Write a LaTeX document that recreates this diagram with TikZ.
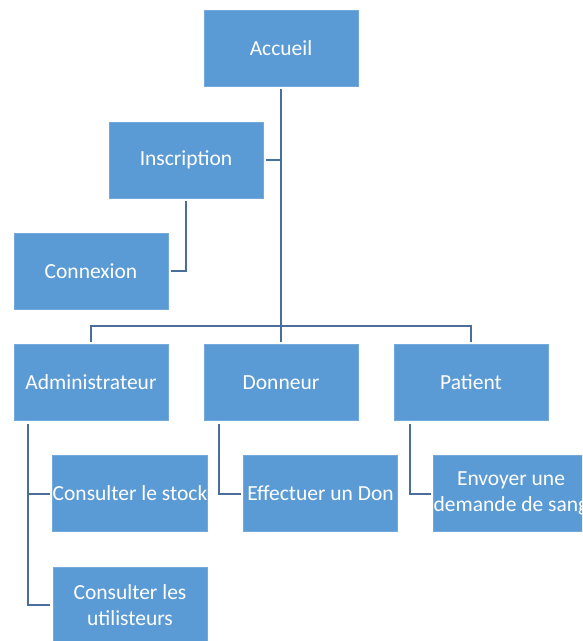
\documentclass[tikz,border=0pt]{standalone}
\usepackage{fontspec}
\setmainfont{Carlito}
\usetikzlibrary{calc}
\definecolor{boxblue}{HTML}{5B9BD5}
\definecolor{linkblue}{HTML}{4A6E9C}
\begin{document}
\begin{tikzpicture}[x=1pt,y=-1pt,
  box/.style={fill=boxblue, draw=boxblue!85!white, line width=0.6pt,
    minimum width=154pt, minimum height=76pt, inner sep=0pt, outer sep=3pt,
    text=white, align=center, font=\fontsize{21.5}{26}\selectfont},
  link/.style={draw=linkblue, line width=2pt}]
\useasboundingbox (0,0) rectangle (582,641);
\clip (0,0) rectangle (582,641);

% top level
\node[box] (acc) at (281,48) {Accueil};
\node[box] (ins) at (186,160) {Inscription};
\node[box] (con) at (91,271) {Connexion};

% user roles
\node[box] (adm) at (91,382.5) {Administrateur};
\node[box] (don) at (281,382.5) {Donneur};
\node[box] (pat) at (471,382.5) {Patient};

% actions
\node[box] (stock) at (130,493.5) {Consulter le stock};
\node[box] (util) at (130,605) {Consulter les\\utilisteurs};
\node[box] (don1) at (320.5,493.5) {Effectuer un Don};
\node[box] (dem) at (511,493.5) {Envoyer une\\demande de sang};

% trunk and branches
\coordinate (bar) at ($(acc.south)+(0,237)$);
\draw[link] (acc.south) -- (bar);
\draw[link] (ins.east) -- (ins.east -| acc.south);
\draw[link] (ins.south) |- (con.east);
\draw[link] (adm.north) -- (adm.north |- bar) -- (pat.north |- bar) -- (pat.north);
\draw[link] (bar) -- (don.north);

% children of each role
\coordinate (admx) at ($(adm.south west)+(17,0)$);
\coordinate (donx) at ($(don.south west)+(18,0)$);
\coordinate (patx) at ($(pat.south west)+(19,0)$);
\draw[link] (admx) |- (util.west);
\draw[link] (admx |- stock.west) -- (stock.west);
\draw[link] (donx) |- (don1.west);
\draw[link] (patx) |- (dem.west);
\end{tikzpicture}
\end{document}
